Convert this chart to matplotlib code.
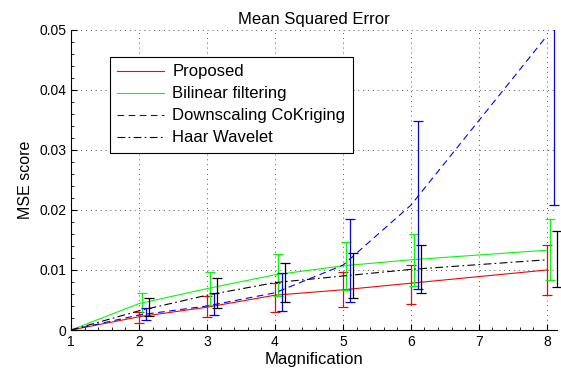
import matplotlib
matplotlib.use("Agg")
import matplotlib.pyplot as plt
from matplotlib.ticker import AutoMinorLocator
from matplotlib.transforms import Bbox, TransformedBbox

plt.rcParams['font.family'] = ['Liberation Sans', 'DejaVu Sans']
plt.rcParams['font.size'] = 10

mag = [1, 2, 3, 4, 5, 6, 8]

# mean values
proposed = [0, 0.0022, 0.0038, 0.0058, 0.0067, 0.0078, 0.0100]
bilinear = [0, 0.0044, 0.0069, 0.0092, 0.0107, 0.0117, 0.0133]
cokriging = [0, 0.0025, 0.0040, 0.0062, 0.0108, 0.0208, 0.0490]
haar = [0, 0.0032, 0.0058, 0.0079, 0.0090, 0.0101, 0.0117]

# error bar ends (low, high)
proposed_lo = [0, 0.0012, 0.0022, 0.0030, 0.0038, 0.0043, 0.0059]
proposed_hi = [0, 0.0030, 0.0057, 0.0078, 0.0096, 0.0109, 0.0142]
bilinear_lo = [0, 0.0025, 0.0042, 0.0056, 0.0066, 0.0073, 0.0083]
bilinear_hi = [0, 0.0062, 0.0097, 0.0127, 0.0146, 0.0160, 0.0185]
cokriging_lo = [0, 0.0017, 0.0025, 0.0032, 0.0046, 0.0069, 0.0208]
cokriging_hi = [0, 0.0037, 0.0061, 0.0095, 0.0185, 0.0348, 0.0772]
haar_lo = [0, 0.0023, 0.0036, 0.0047, 0.0054, 0.0062, 0.0072]
haar_hi = [0, 0.0053, 0.0086, 0.0111, 0.0129, 0.0142, 0.0165]

series = [
    ('Proposed', proposed, proposed_lo, proposed_hi, '#ff0000', '-', 0.0),
    ('Bilinear filtering', bilinear, bilinear_lo, bilinear_hi, '#00ff00', '-', 0.05),
    ('Downscaling CoKriging', cokriging, cokriging_lo, cokriging_hi, '#0000ff', (0, (6, 4)), 0.11),
    ('Haar Wavelet', haar, haar_lo, haar_hi, '#000000', (0, (7, 3, 1.5, 3)), 0.15),
]

fig = plt.figure(figsize=(5.61, 3.72), dpi=100)
ax = fig.add_axes([0.1266, 0.1129, 0.8663, 0.8065])

# error bars may run a bit past the right end of the axis, but not above the top
wide_clip = TransformedBbox(Bbox([[-0.05, 0], [1.05, 1]]), ax.transAxes)

for name, y, lo, hi, c, ls, off in series:
    ax.plot(mag, y, color=c, linestyle=ls, linewidth=0.8, label=name)
    xs = [m + off for m in mag[1:]]
    yerr = [[y[i] - lo[i] for i in range(1, len(y))],
            [hi[i] - y[i] for i in range(1, len(y))]]
    eb = ax.errorbar(xs, y[1:], yerr=yerr, fmt='none', ecolor=c,
                     elinewidth=0.9, capsize=3.5, capthick=0.9)
    for art in eb.lines[1]:
        art.set_clip_box(wide_clip)
    for art in eb.lines[2]:
        art.set_clip_box(wide_clip)

ax.set_xlim(1, 8.15)
ax.set_ylim(0, 0.05)
ax.set_xticks([1, 2, 3, 4, 5, 6, 7, 8])
ax.set_yticks([0, 0.01, 0.02, 0.03, 0.04, 0.05])
ax.set_yticklabels(['0', '0.01', '0.02', '0.03', '0.04', '0.05'])
ax.xaxis.set_minor_locator(AutoMinorLocator(5))
ax.yaxis.set_minor_locator(AutoMinorLocator(5))
ax.tick_params(which='both', direction='in', top=False, right=False)
ax.tick_params(which='major', length=4)
ax.tick_params(which='minor', length=2)
ax.grid(True, which='major', linestyle=(0, (1, 4)), color='#555555', linewidth=0.7)
ax.spines['top'].set_visible(False)
ax.spines['right'].set_visible(False)

ax.set_title('Mean Squared Error', fontsize=12, pad=4)
ax.set_xlabel('Magnification', fontsize=12, labelpad=2)
ax.set_ylabel('MSE score', fontsize=11.5)

leg = ax.legend(loc='upper left', bbox_to_anchor=(0.08, 0.91), fancybox=False,
                edgecolor='black', framealpha=1, handlelength=2.8,
                borderaxespad=0, labelspacing=0.42, fontsize=12,
                handletextpad=0.5, borderpad=0.45)
leg.get_frame().set_linewidth(0.8)

fig.savefig('out.png', dpi=100)
